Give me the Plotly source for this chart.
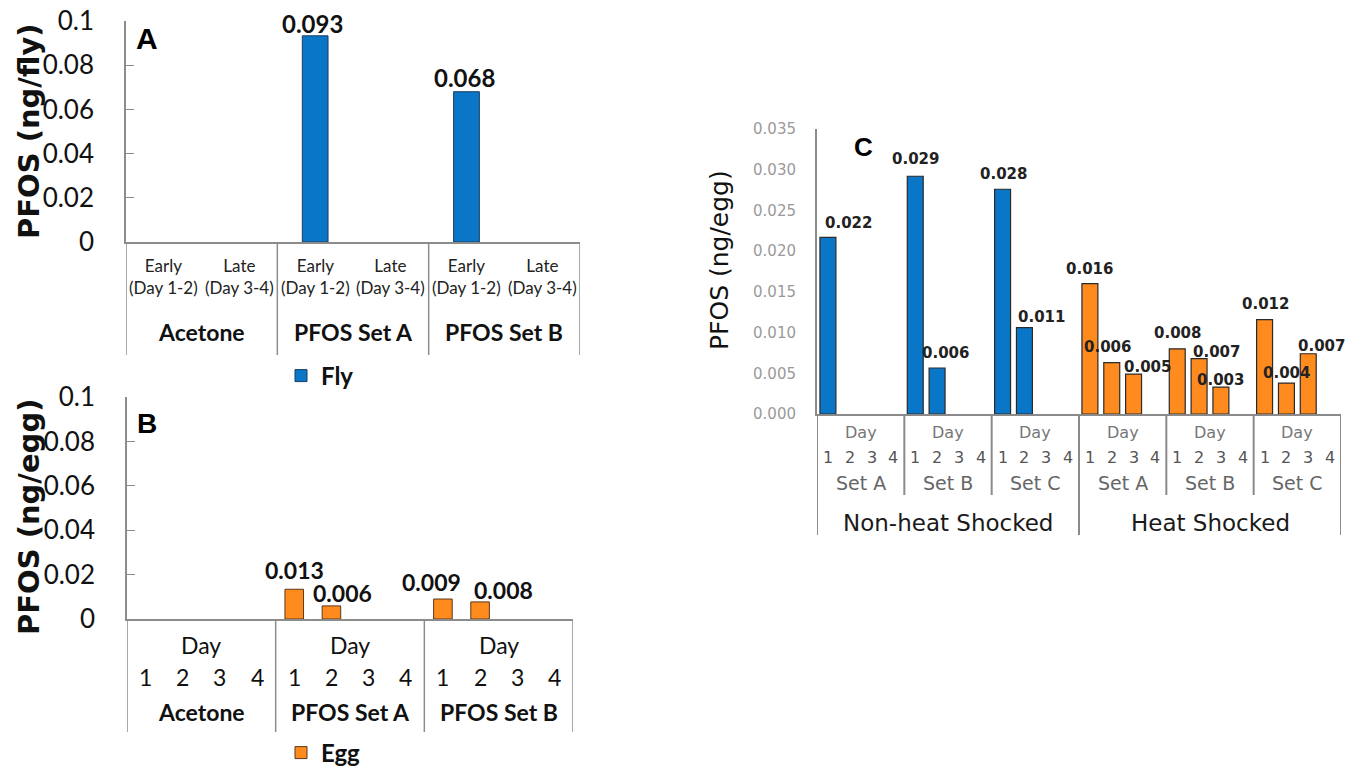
import plotly.graph_objects as go

# ---------------- data ----------------
A_groups = ["Acetone", "PFOS Set A", "PFOS Set B"]
A_periods = ["Early<br>(Day 1-2)", "Late<br>(Day 3-4)"]
A_fly = [None, None, 0.0933, None, 0.068, None]

B_groups = ["Acetone", "PFOS Set A", "PFOS Set B"]
B_days = ["1", "2", "3", "4"]
B_egg = [None, None, None, None,
         0.0134, 0.0059, None, None,
         0.0090, 0.0077, None, None]

C_treatments = ["Non-heat Shocked", "Heat Shocked"]
C_sets = ["Set A", "Set B", "Set C"]
C_days = ["1", "2", "3", "4"]
C_non_heat = [0.0217, None, None, None,
              0.0292, 0.00565, None, None,
              0.0276, 0.0106, None, None]
C_heat = [0.0160, 0.0063, 0.0049, None,
          0.0080, 0.0068, 0.0033, None,
          0.0116, 0.0038, 0.0074, None]

A_ticks = [0, 0.02, 0.04, 0.06, 0.08, 0.1]
A_ticktext = ["0", "0.02", "0.04", "0.06", "0.08", "0.1"]

# label offsets (px) relative to bar tops -- style only
A_lab_dx = [0, 0, -3, 0, -2, 0]
A_lab_dy = [0, 0, 12, 0, 14, 0]
B_lab_dx = [0, 0, 0, 0, 0, 11, 0, 0, -11, 23, 0, 0]
B_lab_dy = [0, 0, 0, 0, 19, 13, 0, 0, 17, 12, 0, 0]
C_nh_dx = [21, 0, 0, 0, 0, 8, 0, 0, 1, 17, 0, 0]
C_nh_dy = [14, 0, 0, 0, 17, 15, 0, 0, 15, 11, 0, 0]
C_h_dx = [0, -4, 14, 0, 0, 17, 0, 0, 1, 0, 13, 0]
C_h_dy = [15, 16, 7, 0, 16, 7, 7, 0, 16, 10, 8, 0]

# ---------------- helpers ----------------
W, H = 1352, 770
def fx(p):
    return p / W
def fy(p):
    return 1 - p / H

BLUE = "#0a76c8"
ORANGE = "#ff8a1e"
AXC = "#8c8c8c"
SANS = "Lato"
CF = "DejaVu Sans"

A_cats = [f"{g}|{p}" for g in A_groups for p in A_periods]
B_cats = [f"{g}|{d}" for g in B_groups for d in B_days]
C_cats = [f"{t}|{s}|{d}" for t in C_treatments for s in C_sets for d in C_days]

fig = go.Figure()

fig.add_trace(go.Bar(x=A_cats, y=A_fly, name="Fly", width=0.34,
                     marker=dict(color=BLUE, line=dict(color="#1d3c5e", width=1)),
                     xaxis="x", yaxis="y", legend="legend"))
fig.add_trace(go.Bar(x=B_cats, y=B_egg, name="Egg", width=0.5,
                     marker=dict(color=ORANGE, line=dict(color="#5a3a1a", width=1)),
                     xaxis="x2", yaxis="y2", legend="legend2"))
fig.add_trace(go.Bar(x=C_cats[:12], y=C_non_heat, name="Non-heat Shocked", width=0.73,
                     marker=dict(color=BLUE, line=dict(color="#2a2a2a", width=1.2)),
                     xaxis="x3", yaxis="y3", showlegend=False))
fig.add_trace(go.Bar(x=C_cats[12:], y=C_heat, name="Heat Shocked", width=0.73,
                     marker=dict(color=ORANGE, line=dict(color="#2a2a2a", width=1.2)),
                     xaxis="x3", yaxis="y3", showlegend=False))

ann = []
shapes = []

def add_text(text, x, y, size, color="#1a1a1a", family=SANS, weight="normal",
             xref="paper", yref="paper", angle=0, xanchor="center", yanchor="middle",
             xshift=0, yshift=0):
    ann.append(dict(text=text, x=x, y=y, xref=xref, yref=yref, showarrow=False,
                    textangle=angle, xanchor=xanchor, yanchor=yanchor,
                    xshift=xshift, yshift=yshift,
                    font=dict(family=family, size=size, color=color, weight=weight)))

def vline(xref, x, top_px, bot_px, color=AXC, width=1.5):
    shapes.append(dict(type="line", xref=xref, yref="paper", x0=x, x1=x,
                       y0=fy(top_px), y1=fy(bot_px), line=dict(color=color, width=width)))

# ---- panel A ----
for i, v in enumerate(A_fly):
    if v is not None:
        add_text(f"{v:.3f}", A_cats[i], v, 24, "#111", SANS, "bold", "x", "y",
                 xshift=A_lab_dx[i], yshift=A_lab_dy[i])
for c, p in zip(A_cats, A_periods * len(A_groups)):
    add_text(p, c, fy(277), 17, "#222", SANS, xref="x")
for gi, g in enumerate(A_groups):
    add_text(g, gi * 2 + 0.5, fy(332), 23, "#111", SANS, "bold", xref="x")
for b in [-0.5, 1.5, 3.5, 5.5]:
    vline("x", b, 242, 355)
add_text("PFOS (ng/fly)", fx(29), fy(131), 29, "#111", "DejaVu Sans", "bold", angle=-90)
add_text("A", fx(147), fy(39), 30, "#000", "Liberation Sans", "bold")

# ---- panel B ----
for i, v in enumerate(B_egg):
    if v is not None:
        add_text(f"{v:.3f}", B_cats[i], v, 23, "#111", SANS, "bold", "x2", "y2",
                 xshift=B_lab_dx[i], yshift=B_lab_dy[i])
for c, d in zip(B_cats, B_days * len(B_groups)):
    add_text(d, c, fy(677), 23, "#111", SANS, xref="x2")
for gi, g in enumerate(B_groups):
    add_text("Day", gi * 4 + 1.5, fy(645), 23, "#111", SANS, xref="x2")
    add_text(g, gi * 4 + 1.5, fy(712), 23, "#111", SANS, "bold", xref="x2")
for b in [-0.5, 3.5, 7.5, 11.5]:
    vline("x2", b, 619, 732)
add_text("PFOS (ng/egg)", fx(29), fy(517), 29, "#111", "DejaVu Sans", "bold", angle=-90)
add_text("B", fx(147), fy(423), 28, "#000", "Liberation Sans", "bold")

# ---- panel C ----
for i, v in enumerate(C_non_heat):
    if v is not None:
        add_text(f"{v:.3f}", C_cats[i], v, 15, "#222", CF, "bold", "x3", "y3",
                 xshift=C_nh_dx[i], yshift=C_nh_dy[i])
for i, v in enumerate(C_heat):
    if v is not None:
        add_text(f"{v:.3f}", C_cats[12 + i], v, 15, "#222", CF, "bold", "x3", "y3",
                 xshift=C_h_dx[i], yshift=C_h_dy[i])
for c, d in zip(C_cats, C_days * (len(C_treatments) * len(C_sets))):
    add_text(d, c, fy(457), 16, "#555", CF, xref="x3")
for k in range(len(C_treatments) * len(C_sets)):
    s = C_sets[k % len(C_sets)]
    add_text("Day", k * 4 + 1.5, fy(432), 16, "#777", CF, xref="x3")
    add_text(s, k * 4 + 1.5, fy(483), 19, "#666", CF, xref="x3")
for ti, t in enumerate(C_treatments):
    add_text(t, ti * 12 + 5.5, fy(523), 23, "#1a1a1a", CF, xref="x3")
for b in [3.5, 7.5, 15.5, 19.5]:
    vline("x3", b, 414, 495, "#8a8a8a", 2)
for b in [-0.5, 11.5, 23.5]:
    vline("x3", b, 414, 535, "#8a8a8a", 2)
add_text("PFOS (ng/egg)", fx(719), fy(260), 25, "#111", CF, angle=-90)
add_text("C", fx(863), fy(147), 26, "#000", "Liberation Sans", "bold")

xcommon = dict(type="category", showline=True, linecolor=AXC, linewidth=1.5,
               showticklabels=False, ticks="", showgrid=False, zeroline=False,
               fixedrange=True, automargin=False)
ycommon = dict(showline=True, linecolor=AXC, linewidth=1.5, showgrid=False,
               zeroline=False, fixedrange=True, automargin=False)

fig.update_layout(
    width=W, height=H, margin=dict(l=0, r=0, t=0, b=0, autoexpand=False),
    paper_bgcolor="white", plot_bgcolor="white",
    barmode="overlay", showlegend=True,
    xaxis=dict(xcommon, domain=[fx(126), fx(580)], range=[-0.5, 5.5],
               categoryorder="array", categoryarray=A_cats, anchor="y"),
    yaxis=dict(ycommon, domain=[fy(242), fy(21)], range=[0, 0.1],
               tickvals=A_ticks, ticktext=A_ticktext, ticks="inside", ticklen=8,
               tickcolor=AXC, ticklabelstandoff=25,
               tickfont=dict(family=SANS, size=26, color="#111"), anchor="x"),
    xaxis2=dict(xcommon, domain=[fx(127), fx(573)], range=[-0.5, 11.5],
                categoryorder="array", categoryarray=B_cats, anchor="y2"),
    yaxis2=dict(ycommon, domain=[fy(619), fy(397)], range=[0, 0.1],
                tickvals=A_ticks, ticktext=A_ticktext, ticks="inside", ticklen=8,
                tickcolor=AXC, ticklabelstandoff=25,
                tickfont=dict(family=SANS, size=26, color="#111"), anchor="x2"),
    xaxis3=dict(xcommon, domain=[fx(817), fx(1341)], range=[-0.5, 23.5],
                categoryorder="array", categoryarray=C_cats, anchor="y3",
                linecolor="#8a8a8a", linewidth=2),
    yaxis3=dict(ycommon, domain=[fy(414), fy(129)], range=[0, 0.035],
                dtick=0.005, tick0=0, tickformat=".3f", ticks="", ticklabelstandoff=16,
                tickfont=dict(family=CF, size=15, color="#9a9a9a"), anchor="x3",
                linecolor="#8a8a8a", linewidth=2),
    legend=dict(x=fx(281), y=fy(376), xanchor="left", yanchor="middle",
                bgcolor="rgba(0,0,0,0)", font=dict(family=SANS, size=24, color="#111", weight="bold")),
    legend2=dict(x=fx(281), y=fy(753), xanchor="left", yanchor="middle",
                 bgcolor="rgba(0,0,0,0)", font=dict(family=SANS, size=24, color="#111", weight="bold")),
    annotations=ann, shapes=shapes,
)

fig.write_html("out.html", config={"displayModeBar": False},
               post_script="document.body.style.margin='0';document.body.style.overflow='hidden';")
